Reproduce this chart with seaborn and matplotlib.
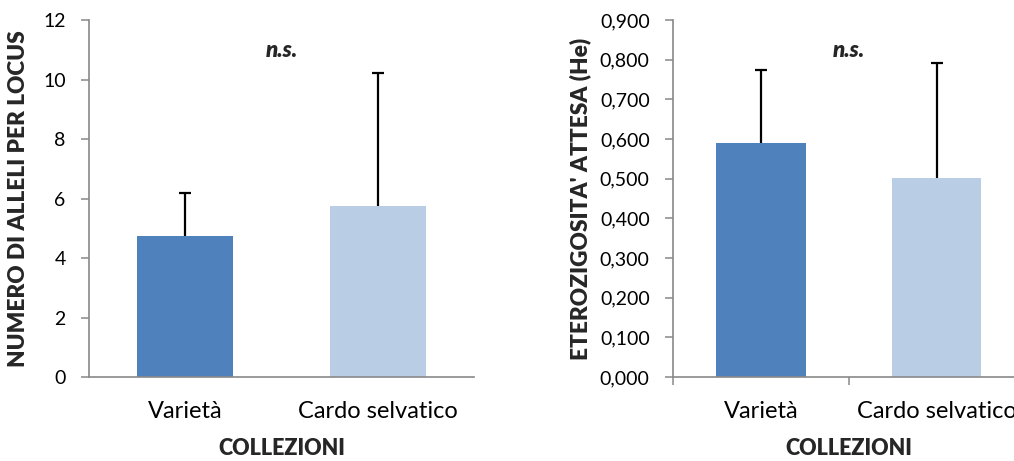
import matplotlib
matplotlib.use("Agg")
import matplotlib.pyplot as plt
import seaborn as sns
import pandas as pd
from matplotlib.ticker import FixedLocator, FuncFormatter

# Data
categories = ["Varietà", "Cardo selvatico"]
alleli_mean = [4.74, 5.75]
alleli_sd = [1.44, 4.48]
he_mean = [0.590, 0.501]
he_sd = [0.184, 0.291]
alleli_ticks = [0, 2, 4, 6, 8, 10, 12]
he_ticks = [0.0, 0.1, 0.2, 0.3, 0.4, 0.5, 0.6, 0.7, 0.8, 0.9]

bar_colors = ["#4F81BD", "#B9CDE5"]
axis_grey = "#898989"

sns.set_theme(style="white")
plt.rcParams["font.family"] = ["Lato", "DejaVu Sans"]

fig = plt.figure(figsize=(10.14, 4.61), dpi=100)
ax1 = fig.add_axes([0.0878, 0.1822, 0.3797, 0.7744])
ax2 = fig.add_axes([0.6637, 0.1822, 0.3471, 0.7744])


def draw(ax, means, sds, width, ymax, ticks, fmt, ylabel, ylabelpad, xticks_marks):
    df = pd.DataFrame({"collezione": categories, "valore": means})
    sns.barplot(data=df, x="collezione", y="valore", hue="collezione",
                palette=bar_colors, width=width, errorbar=None,
                legend=False, ax=ax, saturation=1)
    for p in ax.patches:
        p.set_edgecolor("none")
    # upper-only error bars with a cap at the top end
    eb = ax.errorbar(range(len(means)), means, yerr=[[0] * len(sds), sds],
                     fmt="none", ecolor="black", elinewidth=1.6, capsize=4,
                     capthick=1.6, zorder=3)
    caps = eb.lines[1]
    if len(caps) > 1:
        caps[0].set_visible(False)
    ax.set_xlim(-0.5, 1.5)
    ax.set_ylim(0, ymax)
    ax.yaxis.set_major_locator(FixedLocator(ticks))
    ax.yaxis.set_major_formatter(FuncFormatter(fmt))
    ax.tick_params(axis="y", which="major", direction="out", length=5.8,
                   width=1.1, color=axis_grey, labelsize=14, pad=11,
                   left=True, labelcolor="black")
    ax.tick_params(axis="x", which="major", length=0, labelsize=17,
                   pad=17, labelcolor="black")
    if xticks_marks:
        ax.set_xticks([-0.5, 0.5, 1.5], minor=True)
        ax.tick_params(axis="x", which="minor", direction="out", length=6,
                       width=1.1, color=axis_grey, bottom=True)
    for side in ("top", "right"):
        ax.spines[side].set_visible(False)
    for side in ("left", "bottom"):
        ax.spines[side].set_color(axis_grey)
        ax.spines[side].set_linewidth(1.2)
    ax.set_ylabel(ylabel, fontsize=16.3, fontweight="heavy", labelpad=ylabelpad)
    ax.set_xlabel("COLLEZIONI", fontsize=15.5, fontweight="heavy", labelpad=11.5)
    ax.text(0.5, 0.915, "n.s.", transform=ax.transAxes, ha="center",
            va="center", fontsize=16, fontweight="heavy", fontstyle="italic")


draw(ax1, alleli_mean, alleli_sd, 0.5, 12, alleli_ticks,
     lambda v, _: f"{v:.0f}", "NUMERO DI ALLELI PER LOCUS", 10, False)
draw(ax2, he_mean, he_sd, 0.506, 0.9, he_ticks,
     lambda v, _: f"{v:.3f}".replace(".", ","), "ETEROZIGOSITA' ATTESA (He)", 6, True)

fig.savefig("out.png", dpi=100)
